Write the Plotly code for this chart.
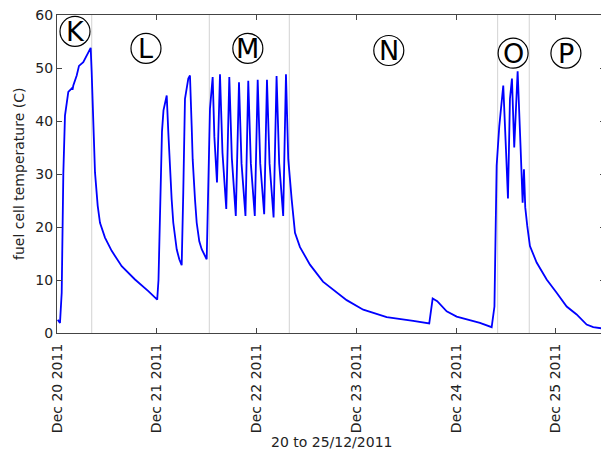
import pandas as pd
import plotly.graph_objects as go

# hours since 2011-12-20 00:00 and fuel cell temperature (C)
hours = [0.17, 0.72, 1.13, 1.52, 1.92, 2.72, 3.37, 3.61, 3.73, 3.92, 4.74, 5.29, 6.32, 8.10,
         8.34, 8.73, 9.14, 9.79, 10.34, 11.54, 13.15, 15.56, 18.76, 21.96, 24.10,
         24.41, 24.77, 25.25, 25.61, 26.39, 26.77, 27.18, 27.58, 27.97, 28.79, 29.41, 29.99,
         30.37, 30.78, 31.58, 31.98,
         32.39, 32.63, 33.19, 33.60, 34.22, 34.80, 36.00,
         36.79, 37.44, 37.85, 38.48, 39.20, 39.80, 40.71, 41.44, 42.05, 43.00, 43.77, 44.38, 45.33,
         46.00, 46.62, 47.57, 48.27, 48.88, 49.83, 50.50, 51.12, 52.09, 52.81, 53.44, 54.40, 55.07,
         55.62, 56.44, 57.24, 58.44, 60.84, 63.97, 67.26, 69.67, 73.66, 77.68, 79.29, 85.68, 89.53,
         90.35, 91.45, 93.72, 96.12, 101.72, 104.54,
         105.21, 105.74, 106.37, 106.94, 107.33, 107.98, 108.46, 108.94, 109.42, 109.97,
         110.79, 111.51, 111.99, 112.31, 112.62, 113.10, 113.75, 115.36, 117.77, 120.17,
         122.58, 124.98, 127.38, 128.97, 131.78]
temps = [2.5, 1.9, 7.6, 30.0, 41.0, 45.5, 46.0, 46.2, 45.9, 46.7, 48.6, 50.4, 51.1, 53.8,
         49.2, 39.8, 30.3, 24.0, 20.8, 18.0, 15.5, 12.6, 10.1, 7.9, 6.3,
         10.0, 24.0, 38.0, 42.0, 44.8, 37.9, 30.9, 25.2, 20.8, 15.8, 13.9, 12.8,
         26.5, 44.2, 48.0, 48.6,
         39.1, 32.8, 25.2, 20.8, 17.3, 15.8, 13.9,
         42.3, 48.3, 37.0, 28.4, 48.8, 34.0, 23.4, 48.3, 33.0, 22.1, 47.3, 32.0, 22.1,
         47.6, 32.0, 22.1, 47.8, 32.0, 22.4, 47.8, 32.0, 21.8, 48.5, 32.0, 22.1, 48.8,
         32.8, 25.2, 18.9, 16.2, 12.9, 9.7, 7.6, 6.2, 4.4, 3.5, 3.0, 2.3, 1.8,
         6.5, 6.0, 4.1, 3.1, 1.9, 1.1,
         5.0, 31.6, 39.0, 44.2, 46.7, 34.7, 25.4, 44.2, 48.0, 35.0,
         49.4, 34.7, 24.6, 30.9, 23.7, 20.2, 16.4, 13.3, 10.1, 7.6,
         5.0, 3.5, 1.6, 1.1, 0.8]

# phase boundaries (hours since start)
boundaries = [8.35, 36.63, 55.87, 105.98, 113.58]

# phase labels
label_text = ["K", "L", "M", "N", "O", "P"]
label_hours = [4.33, 21.4, 45.9, 79.8, 109.7, 122.4]
label_temp = [56.9, 53.7, 53.7, 53.3, 52.8, 52.8]

tick_dates = ["2011-12-20", "2011-12-21", "2011-12-22", "2011-12-23", "2011-12-24", "2011-12-25"]
y_ticks = [0, 10, 20, 30, 40, 50, 60]

base = pd.Timestamp("2011-12-20 00:00")
times = base + pd.to_timedelta(hours, unit="h")
bound_t = base + pd.to_timedelta(boundaries, unit="h")
lab_t = base + pd.to_timedelta(label_hours, unit="h")

FONT = "DejaVu Sans"
fig = go.Figure()
fig.add_trace(go.Scatter(x=times, y=temps, mode="lines",
                         line=dict(color="#0000ff", width=1.8), showlegend=False))

shapes = []
for t in bound_t:
    shapes.append(dict(type="line", xref="x", yref="paper", x0=t, x1=t, y0=0, y1=1,
                       line=dict(color="#d3d3d3", width=1), layer="below"))
annotations = []
for txt, t, v in zip(label_text, lab_t, label_temp):
    shapes.append(dict(type="circle", xref="x", yref="y", xsizemode="pixel", ysizemode="pixel",
                       xanchor=t, yanchor=v, x0=-15, x1=15, y0=-15, y1=15,
                       line=dict(color="#000000", width=1.2), fillcolor="rgba(0,0,0,0)"))
    annotations.append(dict(x=t, y=v, xref="x", yref="y", text=txt, showarrow=False,
                            font=dict(family=FONT, size=27, color="#000000"),
                            xanchor="center", yanchor="middle"))

annotations.append(dict(x=0.5, y=-0.343, xref="paper", yref="paper", text="20 to 25/12/2011",
                        showarrow=False, font=dict(family=FONT, size=14, color="#222222"),
                        xanchor="center", yanchor="middle"))
annotations.append(dict(x=-0.0693, y=0.5, xref="paper", yref="paper",
                        text="fuel cell temperature (C)", textangle=-90,
                        showarrow=False, font=dict(family=FONT, size=14, color="#222222"),
                        xanchor="center", yanchor="middle"))

# page body has an 8px margin, so the figure is offset by 8px
fig.update_layout(
    width=601, height=446,
    margin=dict(l=49, r=4, t=7, b=121, autoexpand=False),
    paper_bgcolor="white", plot_bgcolor="white",
    font=dict(family=FONT, size=14, color="#222222"),
    shapes=shapes, annotations=annotations,
    xaxis=dict(type="date", range=[base, base + pd.to_timedelta(131.8, unit="h")],
               tickvals=pd.to_datetime(tick_dates), tickformat="%b %d %Y", tickangle=-90,
               ticks="inside", ticklen=5, tickcolor="#444444", showgrid=False,
               showline=True, linecolor="#444444", linewidth=1.2, mirror="ticks",
               zeroline=False, ticklabelstandoff=4, ticklabeloverflow="allow"),
    yaxis=dict(range=[0, 60], tickvals=y_ticks, ticks="inside", ticklen=5,
               tickcolor="#444444", showgrid=False, showline=True, linecolor="#444444",
               linewidth=1.2, mirror="ticks", zeroline=False, ticklabeloverflow="allow"),
)

fig.write_html("out.html")
